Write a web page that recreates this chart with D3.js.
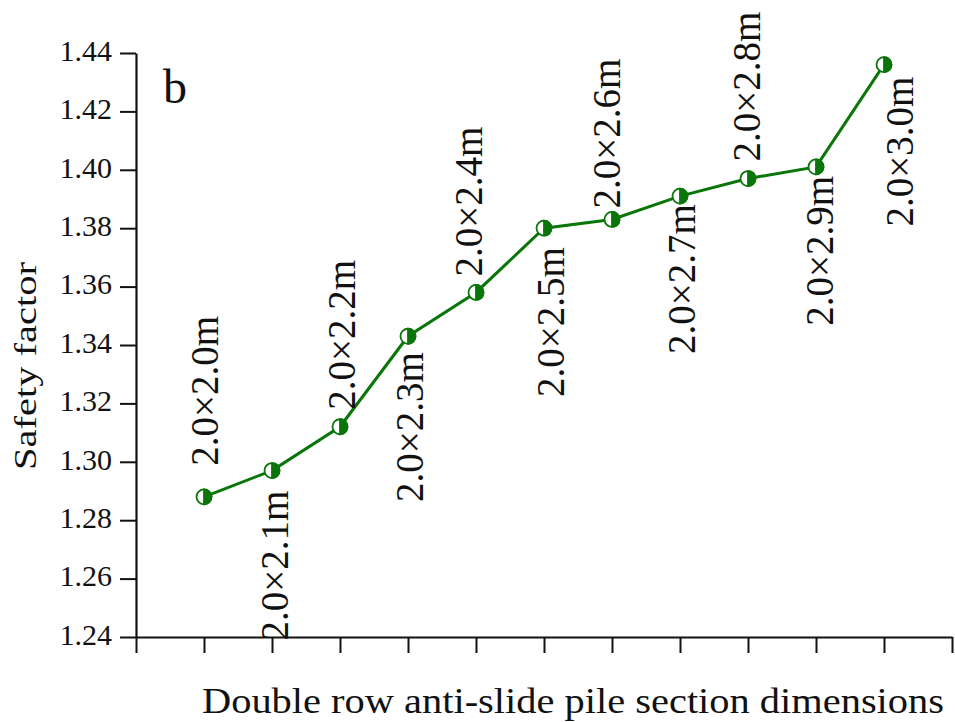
<!DOCTYPE html>
<html>
<head>
<meta charset="utf-8">
<script src="https://cdn.jsdelivr.net/npm/d3@7"></script>
<style>
  body { margin: 0; background: #fff; }
  text { font-family: "Liberation Serif", "Times New Roman", serif; fill: #111; }
</style>
</head>
<body>
<svg id="chart" width="955" height="722"></svg>
<script>
// Pile section sizes (width × length) and the resulting slope safety factor
const sections = ["2.0×2.0m", "2.0×2.1m", "2.0×2.2m", "2.0×2.3m", "2.0×2.4m", "2.0×2.5m",
                  "2.0×2.6m", "2.0×2.7m", "2.0×2.8m", "2.0×2.9m", "2.0×3.0m"];
const safetyFactor = [1.288, 1.297, 1.312, 1.343, 1.358, 1.380, 1.383, 1.391, 1.397, 1.401, 1.436];
const yTicks = [1.24, 1.26, 1.28, 1.30, 1.32, 1.34, 1.36, 1.38, 1.40, 1.42, 1.44];

// Label placement around each point: side, gap from the marker, sideways shift
const labelSide  = ["above", "below", "above", "below", "above", "below", "above", "below", "above", "below", "below"];
const labelGap   = [31, 20, 17, 16, 16, 19, 11, 8, 17, 9, 12];
const labelShift = [14, 16, 15, 15, 6, 20, 8, 15, 12, 17, 29];

const svg = d3.select("#chart");
const green = "#0a760a";

const x = d3.scaleLinear().domain([0, sections.length + 1]).range([136, 952]);
const y = d3.scaleLinear().domain([1.24, 1.44]).range([637, 53]);

// Y axis
const yAxis = svg.append("g")
  .attr("transform", `translate(${x(0)},0)`)
  .call(d3.axisLeft(y).tickValues(yTicks).tickFormat(d3.format(".2f"))
        .tickSize(16).tickPadding(8).tickSizeOuter(0));
yAxis.select(".domain").attr("stroke", "#111").attr("stroke-width", 2.2);
yAxis.selectAll(".tick line").attr("stroke", "#111").attr("stroke-width", 2);
yAxis.selectAll(".tick text")
  .attr("dy", "0.24em")
  .style("font-family", '"Liberation Serif", "Times New Roman", serif')
  .style("font-size", "30px")
  .attr("fill", "#111");

// X axis (unlabelled ticks, one at each section plus both ends)
const xAxis = svg.append("g")
  .attr("transform", `translate(0,${y(1.24)})`)
  .call(d3.axisBottom(x).tickValues(d3.range(0, sections.length + 2))
        .tickFormat("").tickSize(16).tickSizeOuter(0));
xAxis.select(".domain").attr("stroke", "#111").attr("stroke-width", 2.2);
xAxis.selectAll(".tick line").attr("stroke", "#111").attr("stroke-width", 2);

// Line
const pts = safetyFactor.map((v, i) => ({ v, i: i + 1, label: sections[i] }));
svg.append("path")
  .datum(pts)
  .attr("fill", "none")
  .attr("stroke", green)
  .attr("stroke-width", 3)
  .attr("d", d3.line().x(d => x(d.i)).y(d => y(d.v)));

// Half-filled circle markers
const r = 7.5;
const mk = svg.append("g").selectAll("g").data(pts).join("g")
  .attr("transform", d => `translate(${x(d.i)},${y(d.v)})`);
mk.append("circle").attr("r", r).attr("fill", "#fff").attr("stroke", green).attr("stroke-width", 1.8);
mk.append("path")
  .attr("d", `M0,${-r} A${r},${r} 0 0 1 0,${r} Z`)
  .attr("fill", green).attr("stroke", green).attr("stroke-width", 1.8);

// Section labels, rotated
svg.append("g").selectAll("text").data(pts).join("text")
  .attr("transform", (d, k) => {
    const px = x(d.i) + labelShift[k];
    const py = labelSide[k] === "above" ? y(d.v) - labelGap[k] : y(d.v) + labelGap[k];
    return `translate(${px},${py}) rotate(-90)`;
  })
  .attr("text-anchor", (d, k) => labelSide[k] === "above" ? "start" : "end")
  .style("font-size", "39px")
  .text(d => d.label);

// Panel letter
svg.append("text").attr("x", 163).attr("y", 103).style("font-size", "48px").text("b");

// Axis titles
svg.append("text")
  .attr("x", 202).attr("y", 713)
  .attr("textLength", 742).attr("lengthAdjust", "spacingAndGlyphs")
  .style("font-size", "35px")
  .text("Double row anti-slide pile section dimensions");

svg.append("text")
  .attr("transform", "translate(36,366) rotate(-90)")
  .attr("text-anchor", "middle")
  .attr("textLength", 208).attr("lengthAdjust", "spacingAndGlyphs")
  .style("font-size", "32px")
  .text("Safety factor");
</script>
</body>
</html>
